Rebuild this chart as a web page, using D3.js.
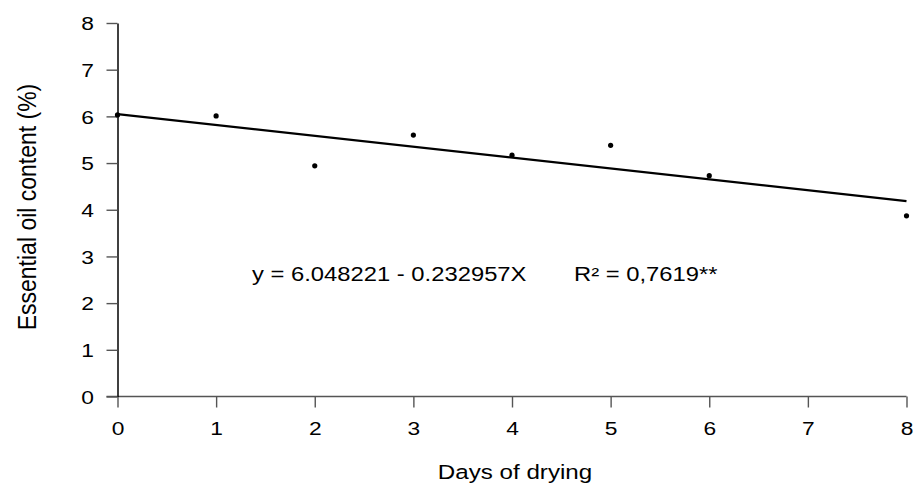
<!DOCTYPE html>
<html>
<head>
<meta charset="utf-8">
<script src="https://cdn.jsdelivr.net/npm/d3@7"></script>
<style>
  body { margin: 0; background: #fff; }
  svg { display: block; font-family: "Liberation Sans", Arial, sans-serif; }
</style>
</head>
<body>
<div id="chart"></div>
<script>
const days = [0, 1, 2, 3, 4, 5, 6, 8];
const oilContent = [6.03, 6.01, 4.94, 5.60, 5.17, 5.38, 4.73, 3.87];
const xTicks = [0, 1, 2, 3, 4, 5, 6, 7, 8];
const yTicks = [0, 1, 2, 3, 4, 5, 6, 7, 8];
// fitted regression y = a + bX
const intercept = 6.048221;
const slope = -0.232957;
const equationText = "y = 6.048221 - 0.232957X";
const r2Text = "R\u00B2 = 0,7619**";
const xTitle = "Days of drying";
const yTitle = "Essential oil content (%)";

const width = 913, height = 483;
const stretch = 1.2; // the figure's text is wider than plain Arial

const svg = d3.select("#chart").append("svg")
  .attr("width", width)
  .attr("height", height);

const x = d3.scaleLinear().domain([0, 8]).range([117.5, 906.5]);
const y = d3.scaleLinear().domain([0, 8]).range([396.5, 23]);

// x axis
const xAxis = svg.append("g")
  .attr("transform", `translate(0,${y(0)})`)
  .call(d3.axisBottom(x).tickValues(xTicks).tickSize(11).tickSizeOuter(0).tickFormat(d3.format("d")));
xAxis.select(".domain").attr("stroke", "#555").attr("stroke-width", 1.4)
  .attr("d", `M${x(0) - 11},0H${x(8)}`);
xAxis.selectAll(".tick line").attr("stroke", "#555").attr("stroke-width", 1.4);
xAxis.selectAll(".tick text")
  .attr("y", 0).attr("dy", 0)
  .attr("transform", `translate(0,38.5) scale(${stretch},1)`)
  .attr("fill", "#000")
  .style("font-size", "19px")
  .style("font-family", "'Liberation Sans', Arial, sans-serif");

// y axis
const yAxis = svg.append("g")
  .attr("transform", `translate(${x(0)},0)`)
  .call(d3.axisLeft(y).tickValues(yTicks).tickSize(11).tickSizeOuter(0).tickFormat(d3.format("d")));
yAxis.select(".domain").attr("stroke", "#000").attr("stroke-width", 1.5);
yAxis.selectAll(".tick line").attr("stroke", "#555").attr("stroke-width", 1.4);
yAxis.selectAll(".tick text")
  .attr("x", 0).attr("dy", "0.35em")
  .attr("transform", `translate(-23.5,0) scale(${stretch},1)`)
  .attr("fill", "#000")
  .style("font-size", "19px")
  .style("font-family", "'Liberation Sans', Arial, sans-serif");

// regression line
const fit = d => intercept + slope * d;
svg.append("line")
  .attr("x1", x(0)).attr("y1", y(fit(0)))
  .attr("x2", x(8)).attr("y2", y(fit(8)))
  .attr("stroke", "#000")
  .attr("stroke-width", 2.3);

// observed points
svg.append("g")
  .selectAll("circle")
  .data(days.map((d, i) => [d, oilContent[i]]))
  .join("circle")
  .attr("cx", d => x(d[0]))
  .attr("cy", d => y(d[1]))
  .attr("r", 2.6)
  .attr("fill", "#000");

// equation labels
svg.append("text")
  .attr("transform", `translate(252,281) scale(1.22,1)`)
  .style("font-size", "19.5px")
  .text(equationText);

svg.append("text")
  .attr("transform", `translate(574,281) scale(1.22,1)`)
  .style("font-size", "19.5px")
  .text(r2Text);

// axis titles
svg.append("text")
  .attr("transform", `translate(515,479) scale(1.24,1)`)
  .attr("text-anchor", "middle")
  .style("font-size", "19.5px")
  .text(xTitle);

svg.append("text")
  .attr("transform", `translate(36,207) scale(1.1,1) rotate(-90)`)
  .attr("text-anchor", "middle")
  .style("font-size", "23px")
  .text(yTitle);
</script>
</body>
</html>
